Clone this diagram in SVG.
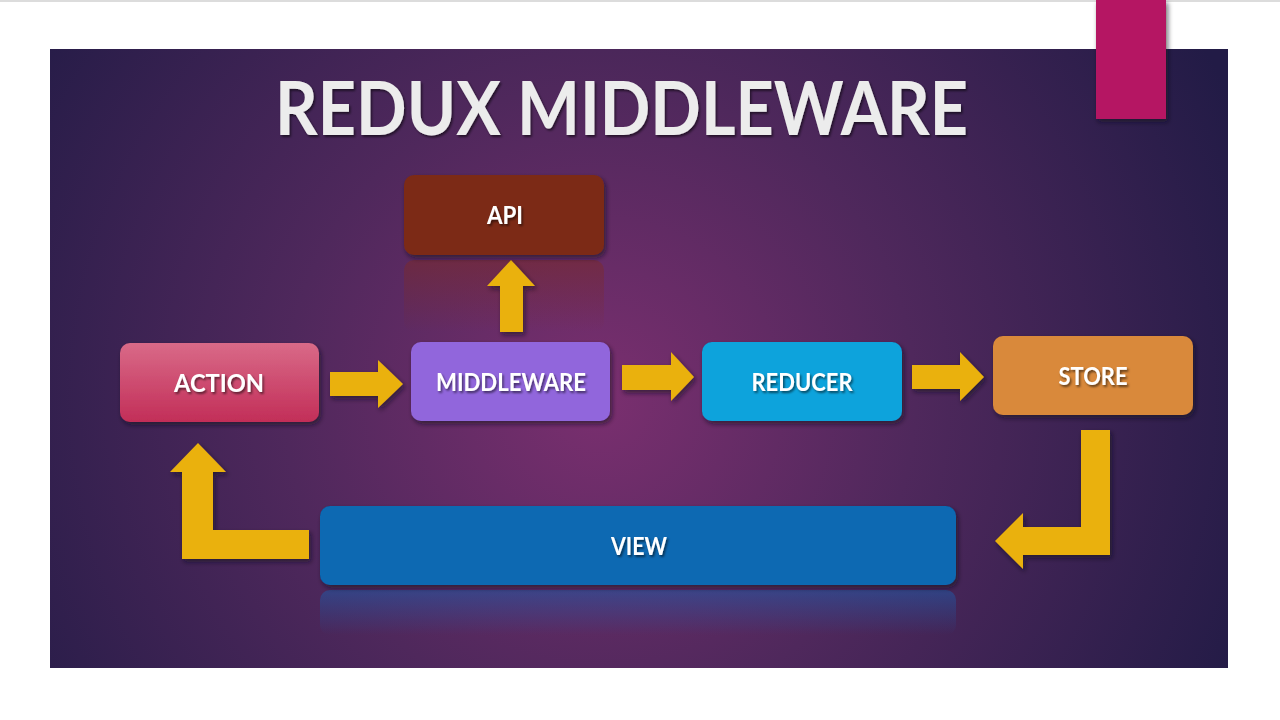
<svg xmlns="http://www.w3.org/2000/svg" width="1280" height="720" viewBox="0 0 1280 720">
  <defs>
    <radialGradient id="bg" gradientUnits="userSpaceOnUse" cx="600" cy="400" r="700">
      <stop offset="0" stop-color="#7a2f6f"/>
      <stop offset="0.45" stop-color="#4f285c"/>
      <stop offset="1" stop-color="#221b46"/>
    </radialGradient>
    <linearGradient id="actionGrad" x1="0" y1="0" x2="0" y2="1">
      <stop offset="0" stop-color="#d96a88"/>
      <stop offset="1" stop-color="#c22e58"/>
    </linearGradient>
    <linearGradient id="apiRefl" x1="0" y1="0" x2="0" y2="1">
      <stop offset="0" stop-color="#7b2a2a" stop-opacity="0.55"/>
      <stop offset="1" stop-color="#7b2a2a" stop-opacity="0"/>
    </linearGradient>
    <linearGradient id="viewRefl" x1="0" y1="0" x2="0" y2="1">
      <stop offset="0" stop-color="#1f5aa8" stop-opacity="0.55"/>
      <stop offset="1" stop-color="#1f5aa8" stop-opacity="0"/>
    </linearGradient>
    <filter id="shadow" x="-10%" y="-20%" width="125%" height="150%">
      <feDropShadow dx="2" dy="3" stdDeviation="2.5" flood-color="#120a20" flood-opacity="0.6"/>
    </filter>
    <filter id="tshadow" x="-10%" y="-20%" width="125%" height="150%">
      <feDropShadow dx="1.5" dy="2" stdDeviation="1" flood-color="#000000" flood-opacity="0.55"/>
    </filter>
  </defs>
  <style>
    .lbl { font-family: "Lato", "Liberation Sans", sans-serif; font-weight: bold; font-size: 25px; fill: #ffffff; text-anchor: middle; filter: url(#tshadow); }
    .title { font-family: "Lato", "Liberation Sans", sans-serif; font-weight: bold; font-size: 74px; fill: #ececec; filter: url(#tshadow); }
    .arrow { fill: #eab10c; filter: url(#shadow); }
    .node { filter: url(#shadow); }
  </style>

  <rect x="0" y="0" width="1280" height="720" fill="#ffffff"/>
  <rect x="0" y="0" width="1280" height="2" fill="#dcdcdc"/>
  <rect x="50" y="49" width="1178" height="619" fill="url(#bg)"/>
  <rect x="1096" y="0" width="70" height="119" fill="#b51464" filter="url(#shadow)"/>

  <text class="title" x="275" y="135" textLength="693" lengthAdjust="spacingAndGlyphs">REDUX MIDDLEWARE</text>

  <!-- reflections -->
  <rect x="404" y="260" width="200" height="72" rx="10" fill="url(#apiRefl)"/>
  <rect x="320" y="590" width="636" height="45" rx="10" fill="url(#viewRefl)"/>

  <g id="connectors">
    <!-- MIDDLEWARE -> API -->
    <polygon class="arrow" points="500,332 500,286 487,286 511,260 535,286 523,286 523,332"/>
    <!-- ACTION -> MIDDLEWARE -->
    <polygon class="arrow" points="330,372 378,372 378,360 403,384 378,408 378,396 330,396"/>
    <!-- MIDDLEWARE -> REDUCER -->
    <polygon class="arrow" points="622,365 671,365 671,352 694,377 671,401 671,390 622,390"/>
    <!-- REDUCER -> STORE -->
    <polygon class="arrow" points="912,365 960,365 960,352 984,377 960,401 960,389 912,389"/>
    <!-- STORE -> VIEW -->
    <polygon class="arrow" points="1081,430 1110,430 1110,555 1023,555 1023,569 995,541 1023,513 1023,527 1081,527"/>
    <!-- VIEW -> ACTION -->
    <polygon class="arrow" points="309,530 309,559 182,559 182,472 170,472 198,443 226,472 213,472 213,530"/>
  </g>

  <g id="node-api">
    <rect class="node" x="404" y="175" width="200" height="80" rx="10" fill="#7b2a18"/>
    <text class="lbl" x="505" y="224" textLength="36" lengthAdjust="spacingAndGlyphs">API</text>
  </g>
  <g id="node-action">
    <rect class="node" x="120" y="343" width="199" height="79" rx="10" fill="url(#actionGrad)"/>
    <text class="lbl" x="219" y="392" textLength="90" lengthAdjust="spacingAndGlyphs">ACTION</text>
  </g>
  <g id="node-middleware">
    <rect class="node" x="411" y="342" width="199" height="79" rx="10" fill="#9166dc"/>
    <text class="lbl" x="511" y="391" textLength="150" lengthAdjust="spacingAndGlyphs">MIDDLEWARE</text>
  </g>
  <g id="node-reducer">
    <rect class="node" x="702" y="342" width="200" height="79" rx="10" fill="#09a3dc"/>
    <text class="lbl" x="802" y="391" textLength="101" lengthAdjust="spacingAndGlyphs">REDUCER</text>
  </g>
  <g id="node-store">
    <rect class="node" x="993" y="336" width="200" height="79" rx="10" fill="#d9893a"/>
    <text class="lbl" x="1093" y="385" textLength="69" lengthAdjust="spacingAndGlyphs">STORE</text>
  </g>
  <g id="node-view">
    <rect class="node" x="320" y="506" width="636" height="79" rx="10" fill="#0769b2"/>
    <text class="lbl" x="639" y="555" textLength="56" lengthAdjust="spacingAndGlyphs">VIEW</text>
  </g>
</svg>
